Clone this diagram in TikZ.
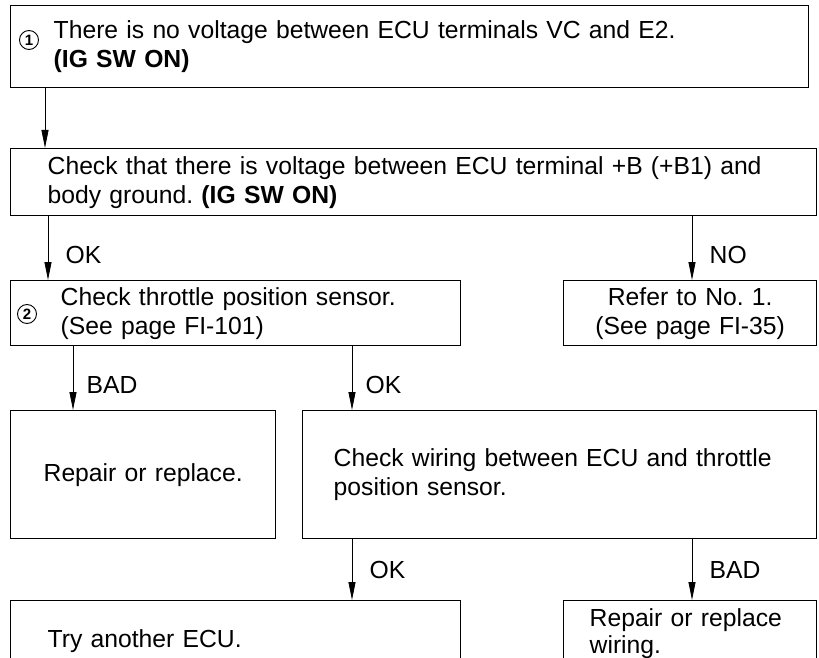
\documentclass[tikz,border=0pt]{standalone}
\usepackage{fontspec}
\setmainfont{Liberation Sans}
\usetikzlibrary{arrows.meta,positioning}

\begin{document}
\frenchspacing
\begin{tikzpicture}[x=1pt,y=-1pt,
    every node/.style={font=\fontsize{24.7}{29}\selectfont},
    flowbox/.style={draw,line width=1.4pt,anchor=north west,inner ysep=0pt,align=left},
    flowarrow/.style={draw,line width=0.8pt,-{Triangle[length=18pt,width=7pt]}},
    marker/.style={circle,draw,line width=0.9pt,inner sep=0pt,minimum size=19pt,font=\fontsize{15}{15}\selectfont\bfseries}]
    \useasboundingbox (0,0) rectangle (819,658);
    \clip (0,0) rectangle (819,658);
    \node[flowbox,minimum width=798,minimum height=82,inner xsep=43,text width=712] (novolt) at (10,5) {There is no voltage between ECU terminals VC and E2.\\\textbf{(IG SW ON)}};
    \node[marker] (m1) at (29,40) {1};
    \node[flowbox,minimum width=806,minimum height=67,inner xsep=37,text width=732] (check) at (10,148) {Check that there is voltage between ECU terminal +B (+B1) and\\body ground. \textbf{(IG SW ON)}};
    \node[flowbox,minimum width=450,minimum height=65,inner xsep=50,text width=350] (sensor) at (10,280) {Check throttle position sensor.\\(See page FI-101)};
    \node[marker] (m2) at (27,314) {2};
    \node[flowbox,minimum width=253,minimum height=65,inner xsep=10,text width=233,align=center] (refer) at (563,280) {Refer to No. 1.\\(See page FI-35)};
    \node[flowbox,minimum width=265,minimum height=128,inner xsep=10,text width=245,align=center] (repair) at (10,410) {Repair or replace.};
    \node[flowbox,minimum width=514,minimum height=128,inner xsep=31,text width=452] (wiring) at (302,410) {Check wiring between ECU and throttle\\position sensor.};
    \node[flowbox,minimum width=450,minimum height=80,inner xsep=37,text width=376] (ecu) at (10,600) {Try another ECU.};
    \node[flowbox,minimum width=253,minimum height=66,inner xsep=26,text width=201,font=\fontsize{24.7}{27}\selectfont] (rewire) at (563,600) {Repair or replace\\wiring.};
    % connectors
    \draw[flowarrow] ([xshift=35]novolt.south west) -- ([xshift=35]novolt.south west |- check.north);
    \draw[flowarrow] ([xshift=38]check.south west) -- node[pos=0.6,right=14pt]{OK} ([xshift=38]check.south west |- sensor.north);
    \draw[flowarrow] ([xshift=129]refer.north west |- check.south) -- node[pos=0.6,right=14pt]{NO} ([xshift=129]refer.north west);
    \draw[flowarrow] ([xshift=63]sensor.south west) -- node[pos=0.6,right=10pt]{BAD} ([xshift=63]sensor.south west |- repair.north);
    \draw[flowarrow] ([xshift=50]wiring.north west |- sensor.south) -- node[pos=0.6,right=10pt]{OK} ([xshift=50]wiring.north west);
    \draw[flowarrow] ([xshift=50]wiring.south west) -- node[pos=0.5,right=14pt]{OK} ([xshift=50]wiring.south west |- ecu.north);
    \draw[flowarrow] ([xshift=129]rewire.north west |- wiring.south) -- node[pos=0.5,right=14pt]{BAD} ([xshift=129]rewire.north west);
\end{tikzpicture}
\end{document}
